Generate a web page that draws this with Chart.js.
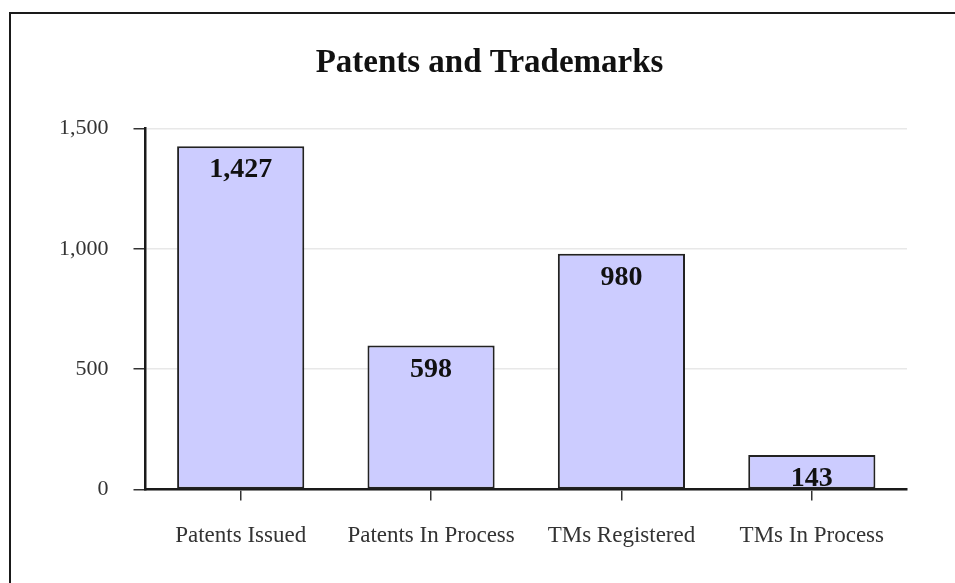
<!DOCTYPE html>
<html>
<head>
<meta charset="utf-8">
<script src="https://cdn.jsdelivr.net/npm/chart.js@4"></script>
<style>
  html, body { margin: 0; padding: 0; background: #fff; overflow: hidden; }
  #frame {
    position: absolute; left: 9px; top: 12px; width: 1000px; height: 600px;
    border-left: 2px solid #1a1a1a; border-top: 2px solid #1a1a1a;
  }
  #wrap { position: absolute; left: 0; top: 0; width: 955px; height: 583px; }
</style>
</head>
<body>
<div id="frame"></div>
<div id="wrap"><canvas id="barChart"></canvas></div>
<script>
// chart data
const categories = ["Patents Issued", "Patents In Process", "TMs Registered", "TMs In Process"];
const amounts = [1427, 598, 980, 143];
const yTicks = [0, 500, 1000, 1500];

const serif = "'Liberation Serif', 'Times New Roman', serif";

// writes the value inside the top of each bar
const valueLabels = {
  id: "valueLabels",
  afterLayout: function (chart) {
    // title sits right of the plot centre in the original
    if (chart.titleBlock) {
      chart.titleBlock.left += 19;
      chart.titleBlock.right += 19;
    }
  },
  afterDatasetsDraw: function (chart) {
    let ctx = chart.ctx;
    let meta = chart.getDatasetMeta(0);
    ctx.save();
    ctx.font = "bold 28px " + serif;
    ctx.fillStyle = "#111";
    ctx.textAlign = "center";
    ctx.textBaseline = "middle";
    meta.data.forEach(function (bar, i) {
      ctx.fillText(amounts[i].toLocaleString("en-US"), bar.x, bar.y + 24);
    });
    ctx.restore();
  }
};

let chartOne = document.getElementById("barChart").getContext("2d");
new Chart(chartOne, {
  type: "bar",
  data: {
    labels: categories,
    datasets: [
      {
        label: "Patents and Trademarks",
        backgroundColor: "#ccccff",
        borderColor: "#222",
        borderWidth: 2,
        borderSkipped: false,
        barPercentage: 0.668,
        categoryPercentage: 1,
        data: amounts
      }
    ]
  },
  plugins: [valueLabels],
  options: {
    responsive: true,
    maintainAspectRatio: false,
    animation: false,
    layout: {
      padding: { left: 34, right: 48, top: 0, bottom: 11 }
    },
    plugins: {
      legend: { display: false },
      tooltip: { enabled: false },
      title: {
        display: true,
        text: "Patents and Trademarks",
        color: "#111",
        font: { family: serif, size: 33, weight: "bold", lineHeight: 1.2 },
        padding: { top: 44, bottom: 45 }
      }
    },
    scales: {
      x: {
        grid: {
          display: true,
          drawOnChartArea: false,
          offset: false,
          tickLength: 11,
          tickColor: "#333",
          lineWidth: 1.5
        },
        border: { color: "#1a1a1a", width: 2.5 },
        ticks: {
          color: "#333",
          padding: 22,
          maxRotation: 0,
          autoSkip: false,
          font: { family: serif, size: 23 }
        }
      },
      y: {
        min: 0,
        max: 1500,
        afterBuildTicks: function (scale) {
          scale.ticks = yTicks.map(function (v) { return { value: v }; });
        },
        grid: {
          color: "#e8e8e8",
          lineWidth: 1.5,
          tickLength: 12,
          tickColor: "#333"
        },
        border: { color: "#1a1a1a", width: 2.5 },
        ticks: {
          color: "#333",
          padding: 25,
          font: { family: serif, size: 22 },
          callback: function (v) { return Number(v).toLocaleString("en-US"); }
        }
      }
    }
  }
});
</script>
</body>
</html>
